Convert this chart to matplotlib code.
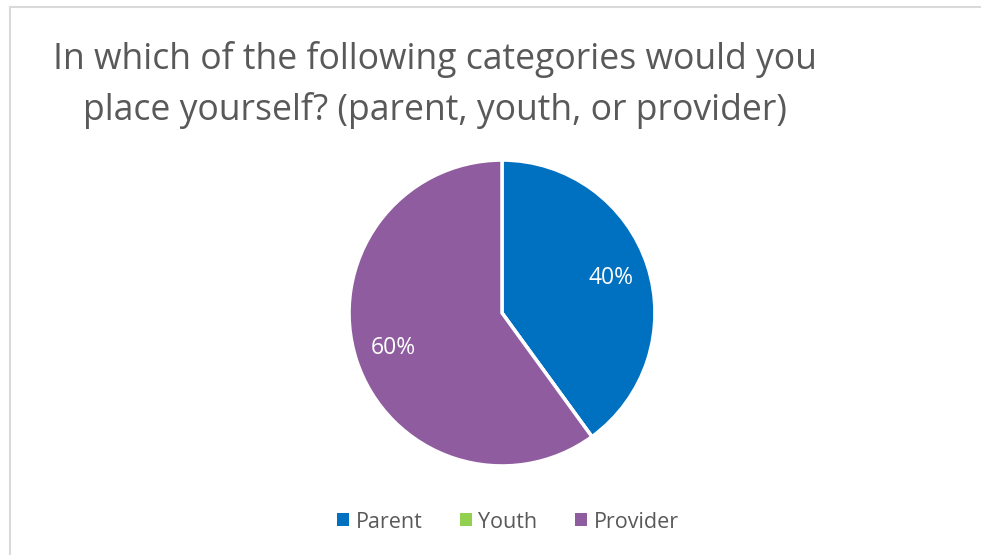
import matplotlib
matplotlib.use("Agg")
import matplotlib.pyplot as plt
import numpy as np
from matplotlib.patches import Patch
from matplotlib.lines import Line2D

# survey answers
categories = ["Parent", "Youth", "Provider"]
shares = [40, 0, 60]
colors = ["#0070C0", "#92D050", "#8F5D9F"]

plt.rcParams['font.family'] = ['Open Sans', 'DejaVu Sans']
text_gray = "#595959"

fig = plt.figure(figsize=(9.81, 5.55), dpi=100)
W, H = 981, 555

# light frame (only top and left edges visible)
fig.add_artist(Line2D([10 / W, 10 / W], [0, 1 - 7 / H], color="#D9D9D9", lw=1.5))
fig.add_artist(Line2D([10 / W, 1], [1 - 7 / H, 1 - 7 / H], color="#D9D9D9", lw=1.5))

fig.text(435 / W, 1 - 85 / H, "In which of the following categories would you\nplace yourself? (parent, youth, or provider)",
         ha="center", va="center", fontsize=25.6, color=text_gray, linespacing=1.5)

# pie axes
cx, cy, r = 502, H - 313, 156
ax = fig.add_axes([(cx - r) / W, (cy - r) / H, 2 * r / W, 2 * r / H])
wedges, _ = ax.pie(shares, colors=colors, startangle=90, counterclock=False,
                   wedgeprops=dict(edgecolor="white", linewidth=2.5))
ax.set_xlim(-1.02, 1.02)
ax.set_ylim(-1.02, 1.02)
ax.set_aspect("equal")
ax.axis("off")

# data labels, skip the empty slice
start = 90.0
for val in shares:
    mid = start - val * 3.6 / 2
    start -= val * 3.6
    if val == 0:
        continue
    rad = np.deg2rad(mid)
    ax.text(0.75 * np.cos(rad), 0.75 * np.sin(rad), f"{val}%", ha="center", va="center",
            color="white", fontsize=16.5)

handles = [Patch(facecolor=c, edgecolor="none") for c in colors]
fig.legend(handles, categories, loc="center", bbox_to_anchor=(508 / W, 33 / H), ncol=3,
           frameon=False, fontsize=15.5, labelcolor=text_gray, handlelength=0.55, handleheight=0.55,
           handletextpad=0.3, columnspacing=1.75)

fig.savefig("out.png", dpi=100, facecolor="white")
